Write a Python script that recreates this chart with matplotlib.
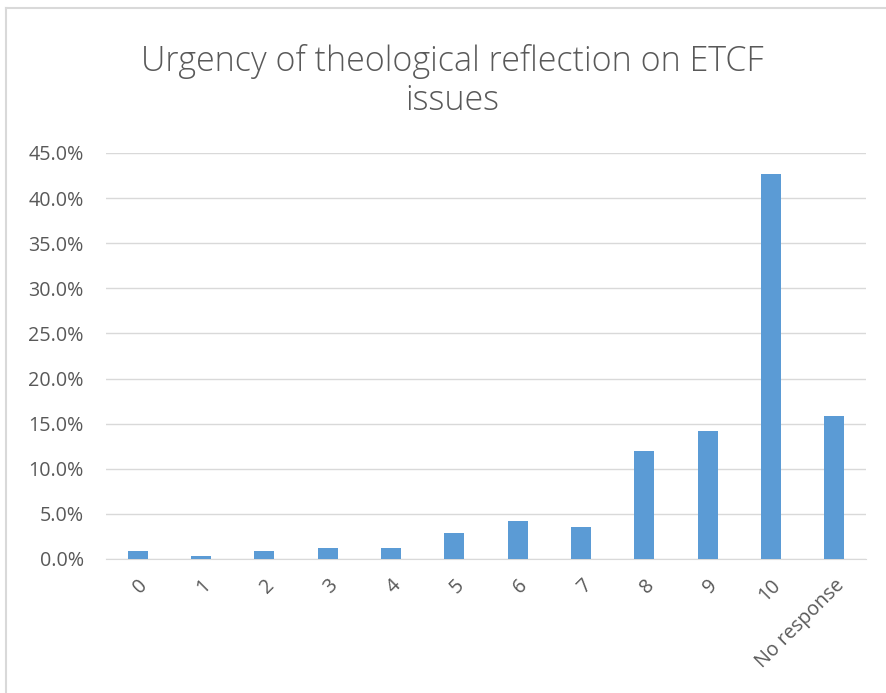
import matplotlib.pyplot as plt
from matplotlib.lines import Line2D
from matplotlib.ticker import FuncFormatter

categories = ["0", "1", "2", "3", "4", "5", "6", "7", "8", "9", "10", "No response"]
shares = [0.92, 0.29, 0.92, 1.26, 1.26, 2.89, 4.2, 3.55, 11.96, 14.2, 42.7, 15.8]

plt.rcParams['font.family'] = ['Open Sans', 'DejaVu Sans']
text_color = "#595959"

fig = plt.figure(figsize=(8.86, 6.93), dpi=100)
ax = fig.add_axes([106 / 886, 1 - 559 / 693, (866 - 106) / 886, (559 - 153) / 693])

x = range(len(categories))
ax.bar(x, shares, width=0.32, color="#5b9bd5", zorder=3)

ax.set_xlim(-0.5, len(categories) - 0.5)
ax.set_ylim(0, 45)
ax.set_yticks(range(0, 46, 5))
ax.yaxis.set_major_formatter(FuncFormatter(lambda v, p: f"{v:.1f}%"))
ax.grid(axis="y", color="#d9d9d9", linewidth=1, zorder=0)
for s in ["top", "right", "left"]:
    ax.spines[s].set_visible(False)
ax.spines["bottom"].set_color("#d9d9d9")
ax.tick_params(axis="both", length=0, labelsize=14.2, colors=text_color)
ax.tick_params(axis="y", pad=16)
ax.set_xticks(list(x))
ax.set_xticklabels(categories, rotation=45, ha="right", rotation_mode="anchor")
ax.tick_params(axis="x", pad=12)

fig.text(452 / 886, 1 - 81 / 693, "Urgency of theological reflection on ETCF\nissues",
         ha="center", va="center", fontsize=24.5, color=text_color, linespacing=1.2,
         fontweight="light")

# chart frame, cut off at the right and bottom edges
fig.lines.append(Line2D([6 / 886, 1], [1 - 8 / 693, 1 - 8 / 693], transform=fig.transFigure,
                        color="#d9d9d9", linewidth=1.5))
fig.lines.append(Line2D([6 / 886, 6 / 886], [0, 1 - 8 / 693], transform=fig.transFigure,
                        color="#d9d9d9", linewidth=1.5))

plt.savefig("out.png", dpi=100)
plt.close(fig)
